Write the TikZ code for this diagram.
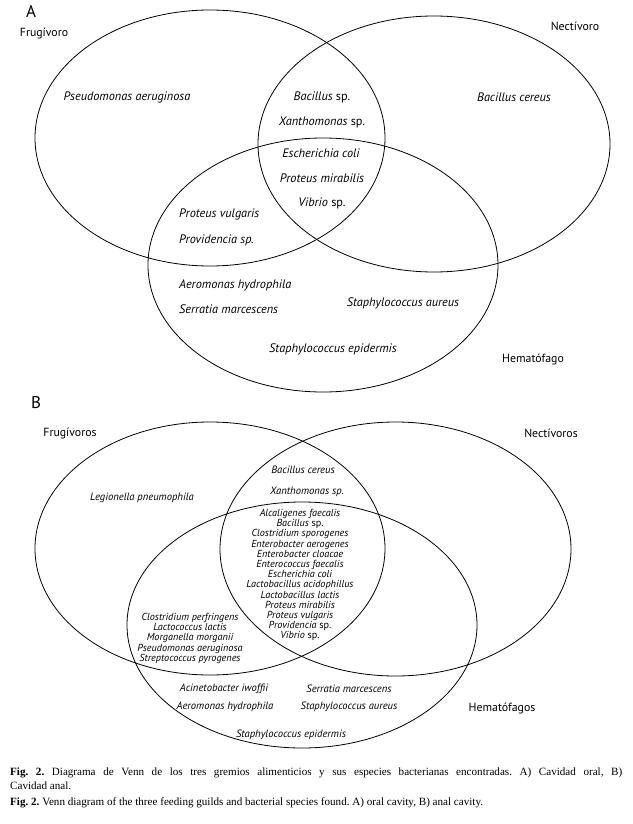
\documentclass[tikz,border=0pt]{standalone}
\usepackage{fontspec}
\setmainfont{Liberation Serif}
\newfontfamily\myr{PT Sans}
\tikzset{
  venn/.style={draw, line width=0.8pt},
  spa/.style={font=\myr\itshape\fontsize{12.3}{13}\selectfont, inner sep=0pt},
  spb/.style={font=\myr\itshape\fontsize{10.6}{11}\selectfont, inner sep=0pt},
  grp/.style={font=\myr\fontsize{11.8}{12}\selectfont, inner sep=0pt},
  panel/.style={font=\myr\fontsize{17}{18}\selectfont, inner sep=0pt},
  lst/.style={font=\myr\itshape\fontsize{10.2}{10.2}\selectfont, align=center, inner sep=0pt},
  captxt/.style={font=\fontsize{11.1}{12}\selectfont\frenchspacing, inner sep=0pt, anchor=base west},
}
\begin{document}
\begin{tikzpicture}[x=1pt,y=-1pt]
\useasboundingbox (0,0) rectangle (632,824);
% ---------- Panel A ----------
\node[panel] (pA) at (31,11) {A};
\draw[venn] (210,138) ellipse [x radius=175pt, y radius=128pt];
\draw[venn] (434,144) ellipse [x radius=176pt, y radius=128pt];
\draw[venn] (323,265) ellipse [x radius=175pt, y radius=127pt];
\node[grp] (fA) at (44,34) {Frugívoro};
\node[grp] (nA) at (575,26) {Nectívoro};
\node[grp] (hA) at (533,359) {Hematófago};
\node[spa] (a1) at (127,97) {Pseudomonas aeruginosa};
\node[spa] (a2) at (322,97) {Bacillus \upshape sp.};
\node[spa] (a3) at (514,97) {Bacillus cereus};
\node[spa] (a4) at (322,122) {Xanthomonas \upshape sp.};
\node[spa] (a5) at (321,153) {Escherichia coli};
\node[spa] (a6) at (322,178) {Proteus mirabilis};
\node[spa] (a7) at (322,203) {Vibrio \upshape sp.};
\node[spa, anchor=west] (a8) at (179,214) {Proteus vulgaris};
\node[spa, anchor=west] (a9) at (179,240) {Providencia sp.};
\node[spa, anchor=west] (a10) at (179,285) {Aeromonas hydrophila};
\node[spa, anchor=west] (a11) at (179,309) {Serratia marcescens};
\node[spa] (a12) at (403,303) {Staphylococcus aureus};
\node[spa] (a13) at (333,349) {Staphylococcus epidermis};
% ---------- Panel B ----------
\node[panel] (pB) at (36,403) {B};
\draw[venn] (210,548.5) ellipse [x radius=175pt, y radius=126.5pt];
\draw[venn] (395.5,549) ellipse [x radius=175.5pt, y radius=127pt];
\draw[venn] (302,625) ellipse [x radius=175pt, y radius=123pt];
\node[grp] (fB) at (70,433) {Frugívoros};
\node[grp] (nB) at (551,433) {Nectívoros};
\node[grp] (hB) at (502,708) {Hematófagos};
\node[spb] (b1) at (142,498) {Legionella pneumophila};
\node[spb] (b2) at (303,470) {Bacillus cereus};
\node[spb] (b3) at (307,492) {Xanthomonas sp.};
\node[lst, anchor=north] (b4) at (300,509) {Alcaligenes faecalis\\ Bacillus \upshape sp.\\ Clostridium sporogenes\\ Enterobacter aerogenes\\ Enterobacter cloacae\\ Enterococcus faecalis\\ Escherichia coli\\ Lactobacillus acidophillus\\ Lactobacillus lactis\\ Proteus mirabilis\\ Proteus vulgaris\\ Providencia \upshape sp.\\ Vibrio \upshape sp.};
\node[lst, anchor=north] (b5) at (190,613) {Clostridium perfringens\\ Lactococcus lactis\\ Morganella morganii\\ Pseudomonas aeruginosa\\ Streptococcus pyrogenes};
\node[spb] (b6) at (224,689) {Acinetobacter iwoffii};
\node[spb] (b7) at (225,707) {Aeromonas hydrophila};
\node[spb] (b8) at (349,689) {Serratia marcescens};
\node[spb] (b9) at (349,707) {Staphylococcus aureus};
\node[spb] (b10) at (291,735) {Staphylococcus epidermis};
% ---------- Caption ----------
\node[captxt] (c1) at (10,775) {\makebox[612pt][s]{\textbf{Fig. 2.} Diagrama de Venn de los tres gremios alimenticios y sus especies bacterianas encontradas. A) Cavidad oral, B)}};
\node[captxt] (c2) at (10,789) {Cavidad anal.};
\node[captxt] (c3) at (10,805) {\textbf{Fig. 2.} Venn diagram of the three feeding guilds and bacterial species found. A) oral cavity, B) anal cavity.};
\end{tikzpicture}
\end{document}
